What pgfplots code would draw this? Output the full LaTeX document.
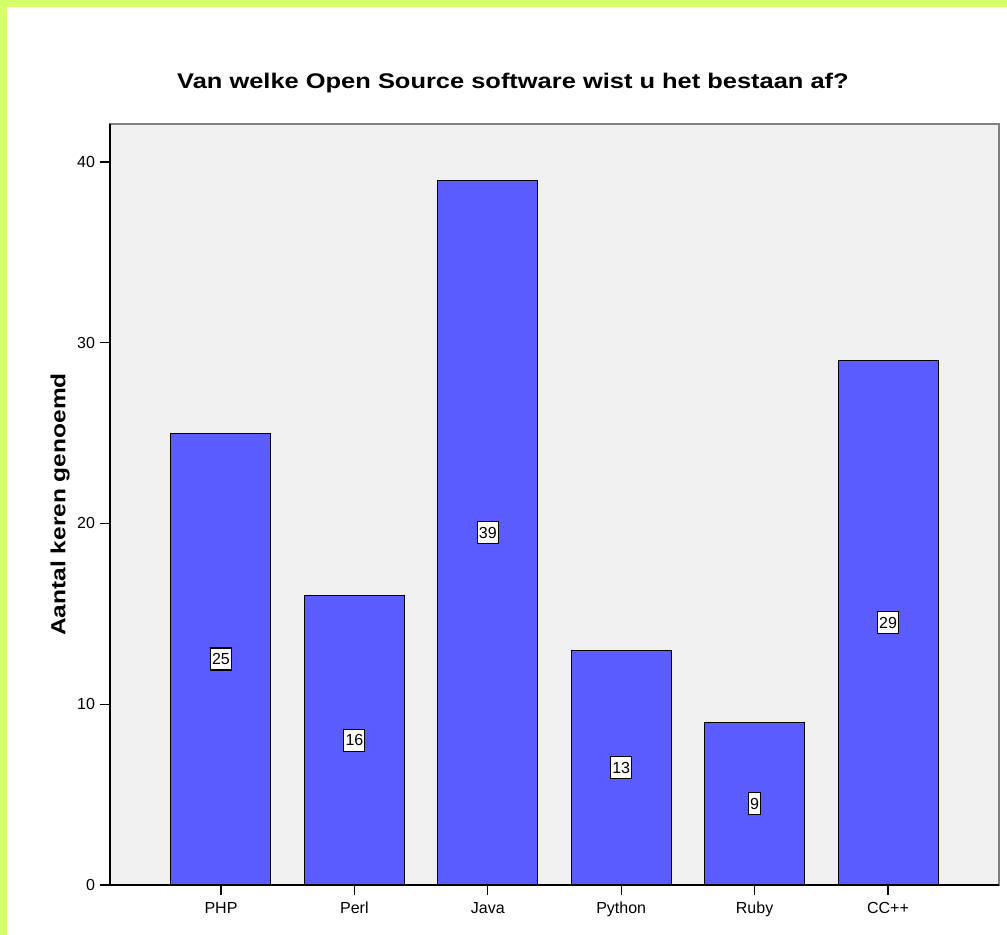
\documentclass[border=0pt]{standalone}
\usepackage{fontspec}
\setmainfont{Liberation Sans}
\newfontfamily\widefont[FakeStretch=1.2]{Liberation Sans}
\usepackage{pgfplots}
\pgfplotsset{compat=1.18}
\usepackage{pgfplotstable}

\definecolor{barblue}{RGB}{90,92,255}
\definecolor{panel}{RGB}{240,240,240}
\definecolor{lime}{RGB}{212,255,102}
\definecolor{framegray}{RGB}{128,128,128}

\pgfplotstableread{
x v
0 25
1 16
2 39
3 13
4 9
5 29
}\software

\begin{document}
\begin{tikzpicture}
% page: 1px of the reference = 0.5pt
\fill[lime] (-55pt,-25pt) rectangle (448.5pt,442.5pt);
\fill[white] (-51.5pt,-25pt) rectangle (448.5pt,439pt);
\path[use as bounding box] (-55pt,-25pt) rectangle (448.5pt,442.5pt);

\begin{axis}[
    at={(0,0)}, anchor=south west,
    scale only axis,
    width=444.5pt, height=380.5pt,
    xmin=-0.832, xmax=5.832,
    ymin=0, ymax=42.1,
    xtick={0,...,5},
    xticklabels={PHP,Perl,Java,Python,Ruby,CC++},
    ytick={0,10,20,30,40},
    xtick pos=bottom, ytick pos=left,
    tick align=outside,
    major tick length=5pt,
    tick style={black, line width=0.6pt},
    tick label style={font=\fontsize{8}{9}\selectfont},
    yticklabel style={xshift=1pt},
    /pgf/number format/assume math mode=true,
    axis background/.style={fill=panel},
    axis line style={draw=framegray, line width=0.7pt},
    ylabel={\widefont\bfseries Aantal keren genoemd},
    ylabel style={at={(axis description cs:-0.0562,0.5)}, anchor=center,
        font=\fontsize{10.2}{12}\selectfont},
    clip=false,
]
\addplot[ybar, bar width=50pt, fill=barblue, draw=black, line width=0.5pt]
    table[x=x, y=v] {\software};
\addplot[draw=none, mark=none, nodes near coords,
    point meta=explicit,
    every node near coord/.append style={anchor=center, fill=white, draw=black,
        line width=0.6pt, inner sep=0.8pt, minimum height=11pt,
        font=\fontsize{8}{9}\selectfont}]
    table[x=x, y expr=\thisrow{v}/2, meta=v] {\software};
\draw[black, line width=0.8pt] (rel axis cs:0,1) -- (rel axis cs:0,0) -- (rel axis cs:1,0);
\end{axis}

\node[font=\widefont\bfseries\fontsize{10.6}{12}\selectfont] at (201.5pt,401pt)
    {Van welke Open Source software wist u het bestaan af?};
\end{tikzpicture}
\end{document}
